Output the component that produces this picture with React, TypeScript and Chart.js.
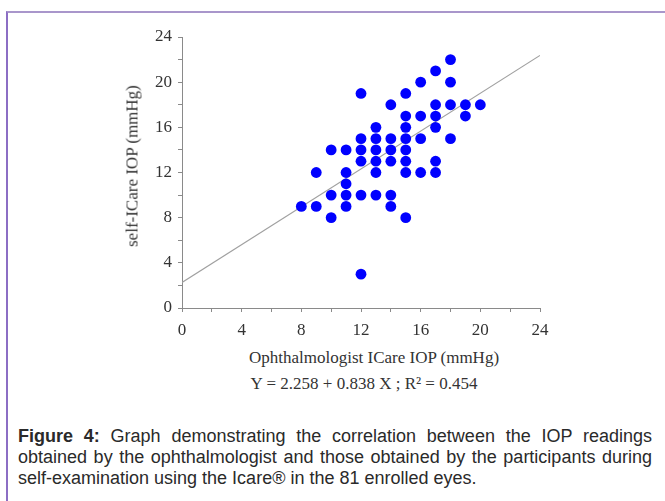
import React, { useEffect, useRef } from "react";
import { Chart, registerables } from "chart.js";

Chart.register(...registerables);

const ophthalmologistIOP = [
  8,
  9, 9,
  10, 10, 10,
  11, 11, 11, 11, 11,
  12, 12, 12, 12, 12, 12,
  13, 13, 13, 13, 13, 13,
  14, 14, 14, 14, 14, 14,
  15, 15, 15, 15, 15, 15, 15, 15,
  16, 16, 16, 16,
  17, 17, 17, 17, 17, 17,
  18, 18, 18, 18,
  19, 19,
  20,
];
const selfIOP = [
  9,
  12, 9,
  14, 10, 8,
  14, 12, 11, 10, 9,
  19, 15, 14, 13, 10, 3,
  16, 15, 14, 13, 12, 10,
  18, 15, 14, 13, 10, 9,
  19, 17, 16, 15, 14, 13, 12, 8,
  20, 17, 15, 12,
  21, 18, 17, 16, 13, 12,
  22, 20, 18, 15,
  18, 17,
  18,
];

// Regression line end points (Y = 2.258 + 0.838 X)
const regressionX = [0, 24];
const regressionY = [2.258, 22.37];

const axisMin = 0;
const axisMax = 24;
const tickStep = 2;
const labelStep = 4;

const xTitle = "Ophthalmologist ICare IOP (mmHg)";
const yTitle = "self-ICare IOP (mmHg)";
const equation = "Y = 2.258 + 0.838 X ; R² = 0.454";
const captionLines = [
  "Graph demonstrating the correlation between the IOP readings",
  "obtained by the ophthalmologist and those obtained by the participants during",
  "self-examination using the Icare® in the 81 enrolled eyes.",
];

const SERIF = "Liberation Serif, Times New Roman, serif";

Chart.defaults.font.family = SERIF;
Chart.defaults.font.size = 17;
Chart.defaults.color = "#333";

export default function App() {
  const ref = useRef<HTMLCanvasElement | null>(null);

  useEffect(() => {
    if (!ref.current) return;
    const points = ophthalmologistIOP.map((x, i) => ({ x, y: selfIOP[i] }));
    const line = regressionX.map((x, i) => ({ x, y: regressionY[i] }));
    const tickCb = (v: any) => (Number(v) % labelStep === 0 ? String(v) : "");
    const chart = new Chart(ref.current, {
      type: "scatter",
      data: {
        datasets: [
          {
            type: "scatter",
            data: points,
            backgroundColor: "#0000ff",
            borderWidth: 0,
            pointRadius: 5.4,
            order: 1,
          } as any,
          {
            type: "line",
            data: line,
            borderColor: "#a0a0a0",
            borderWidth: 1.2,
            pointRadius: 0,
            fill: false,
            order: 2,
          } as any,
        ],
      },
      options: {
        animation: false,
        responsive: false,
        devicePixelRatio: 1,
        layout: { padding: { left: 0, top: 37, right: 125, bottom: 0 } },
        plugins: { legend: { display: false }, tooltip: { enabled: false } },
        scales: {
          x: {
            type: "linear",
            min: axisMin,
            max: axisMax,
            ticks: {
              stepSize: tickStep,
              autoSkip: false,
              maxRotation: 0,
              callback: tickCb,
              padding: 8,
              color: "#333",
              font: { family: SERIF, size: 17 },
            },
            grid: { drawOnChartArea: false, drawTicks: true, tickLength: 4, color: "#8a8a8a" },
            border: { color: "#8a8a8a", width: 1 },
            afterFit: (s: any) => {
              s.height = 37;
              s.paddingLeft = 0;
              s.paddingRight = 0;
            },
          },
          y: {
            type: "linear",
            min: axisMin,
            max: axisMax,
            ticks: {
              stepSize: tickStep,
              autoSkip: false,
              callback: tickCb,
              padding: 6,
              color: "#333",
              font: { family: SERIF, size: 17 },
            },
            grid: { drawOnChartArea: false, drawTicks: true, tickLength: 4, color: "#8a8a8a" },
            border: { color: "#8a8a8a", width: 1 },
            afterFit: (s: any) => {
              s.width = 182;
              s.paddingTop = 0;
              s.paddingBottom = 0;
            },
          },
        },
      } as any,
    });
    return () => chart.destroy();
  }, []);

  const text: React.CSSProperties = {
    position: "absolute",
    fontFamily: SERIF,
    fontSize: 17,
    color: "#333",
    whiteSpace: "nowrap",
    lineHeight: 1,
  };

  const capLine: React.CSSProperties = {
    height: 21,
    whiteSpace: "nowrap",
    overflow: "visible",
  };

  return (
    <div
      style={{
        position: "fixed",
        left: 0,
        top: 0,
        width: 665,
        height: 501,
        background: "#fff",
        overflow: "hidden",
      }}
    >
      <div
        style={{
          position: "absolute",
          left: 6,
          top: 11,
          width: 700,
          height: 520,
          borderTop: "2px solid #a996cb",
          borderLeft: "2px solid #8c6ec4",
        }}
      />
      <canvas
        ref={ref}
        width={665}
        height={345}
        style={{ position: "absolute", left: 0, top: 0, width: 665, height: 345 }}
      />
      <div
        style={{
          ...text,
          left: 132,
          top: 166,
          transform: "translate(-50%, -50%) rotate(-90deg)",
        }}
      >
        {yTitle}
      </div>
      <div style={{ ...text, left: 374, top: 357, transform: "translate(-50%, -50%)" }}>{xTitle}</div>
      <div style={{ ...text, left: 364, top: 383, transform: "translate(-50%, -50%)" }}>{equation}</div>
      <div
        style={{
          position: "absolute",
          left: 18,
          top: 426,
          width: 634,
          fontFamily: "Liberation Sans, Arial, sans-serif",
          fontSize: 18,
          lineHeight: "21px",
          color: "#2a2a2a",
        }}
      >
        <div style={{ ...capLine, whiteSpace: "normal", textAlign: "justify", textAlignLast: "justify" }}>
          <b>Figure 4:</b> {captionLines[0]}
        </div>
        <div style={{ ...capLine, whiteSpace: "normal", textAlign: "justify", textAlignLast: "justify" }}>
          {captionLines[1]}
        </div>
        <div style={capLine}>{captionLines[2]}</div>
      </div>
    </div>
  );
}
